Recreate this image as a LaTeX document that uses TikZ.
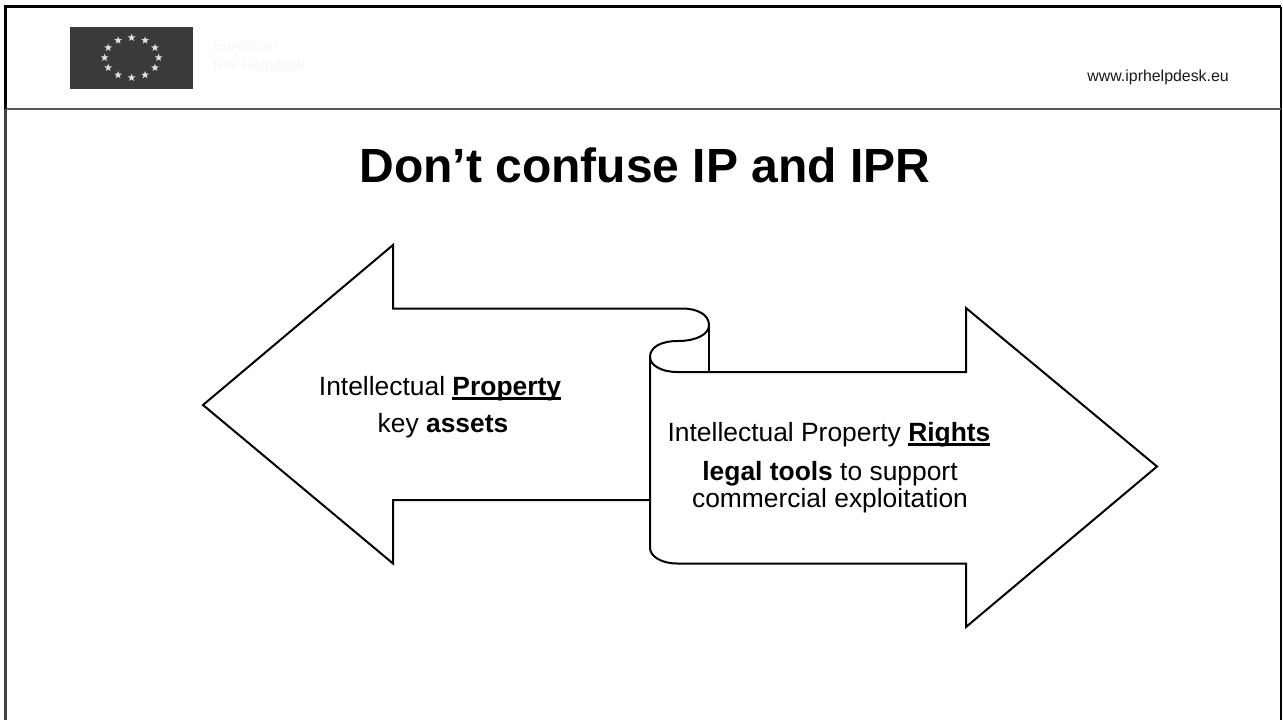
\documentclass[tikz,border=0pt]{standalone}
\usepackage{fontspec}
\setmainfont{Liberation Sans}
\usetikzlibrary{shapes.geometric}
\definecolor{flagc}{HTML}{3A3A3A}
\definecolor{starc}{HTML}{E0E0E0}
\definecolor{faintc}{HTML}{F7F7F7}
\definecolor{rulec}{HTML}{555555}
\newcommand{\ulbold}[1]{\setbox0=\hbox{\bfseries #1}\rlap{\rule[-4.5pt]{\wd0}{2.6pt}}\box0 }
\tikzset{
  outl/.style={draw=black,line width=2pt,line join=miter},
  lbl/.style={font=\fontsize{26.4}{30}\selectfont,align=center,inner sep=0pt,text=black},
  starn/.style={star,star points=5,star point ratio=2.4,fill=starc,inner sep=0pt,minimum size=8pt,draw=none}
}
\begin{document}
\begin{tikzpicture}[x=1pt,y=-1pt]
\useasboundingbox (0,0) rectangle (1283,720);
\fill[white] (0,0) rectangle (1283,720);
% page frame
\draw[black,line width=3pt] (5.5,109) -- (5.5,6.5) -- (1281,6.5);
\draw[black!75,line width=2.5pt] (5.5,109) -- (5.5,720);
\draw[black,line width=2pt] (1281,6.5) -- (1281,720);
\draw[rulec,line width=1.5pt] (5.5,109) -- (1281,109);
% flag
\fill[flagc] (70,27) rectangle (193,89);
\foreach \a in {0,30,...,330}{
  \node[starn] (s\a) at ({131.6+27*cos(\a)},{57.7+20*sin(\a)}) {};
}
\node[anchor=west,inner sep=0pt,text=faintc,font=\fontsize{15}{20}\selectfont,align=left] (eu) at (213,57) {European\\IPR Helpdesk};
\node[anchor=base east,inner sep=0pt,font=\fontsize{15.9}{18}\selectfont,text=black!90] (web) at (1229,81) {www.iprhelpdesk.eu};
\node[anchor=base,inner sep=0pt,font=\bfseries\fontsize{48}{50}\selectfont] (title) at (645,182.7) {Don’t confuse IP and IPR};
% arrows
\draw[outl,fill=white] (203,405) -- (393,245) -- (393,308.5) -- (682,308.5)
  .. controls (698,308.5) and (709,315) .. (709,325)
  .. controls (709,335) and (695,341) .. (678,341)
  .. controls (661,341) and (650,347) .. (650,357)
  -- (650,500) -- (393,500) -- (393,563.5) -- cycle;
\draw[outl,fill=white] (650,357)
  .. controls (650,365) and (661,372) .. (677,372)
  -- (966,372) -- (966,308) -- (1157,466.5) -- (966,627) -- (966,563.5) -- (677,563.5)
  .. controls (661,563.5) and (650,556) .. (650,548) -- cycle;
\draw[outl] (709,325) -- (709,372);
\node[lbl,anchor=base] (l1) at (440,395) {Intellectual \ulbold{Property}};
\node[lbl,anchor=base] (l2) at (443,432.5) {key \textbf{assets}};
\node[lbl,anchor=base] (r1) at (829,441.5) {Intellectual Property \ulbold{Rights}};
\node[lbl,anchor=base] (r2) at (830,480) {\textbf{legal tools} to support};
\node[lbl,anchor=base] (r3) at (830,507) {commercial exploitation};
\end{tikzpicture}
\end{document}
